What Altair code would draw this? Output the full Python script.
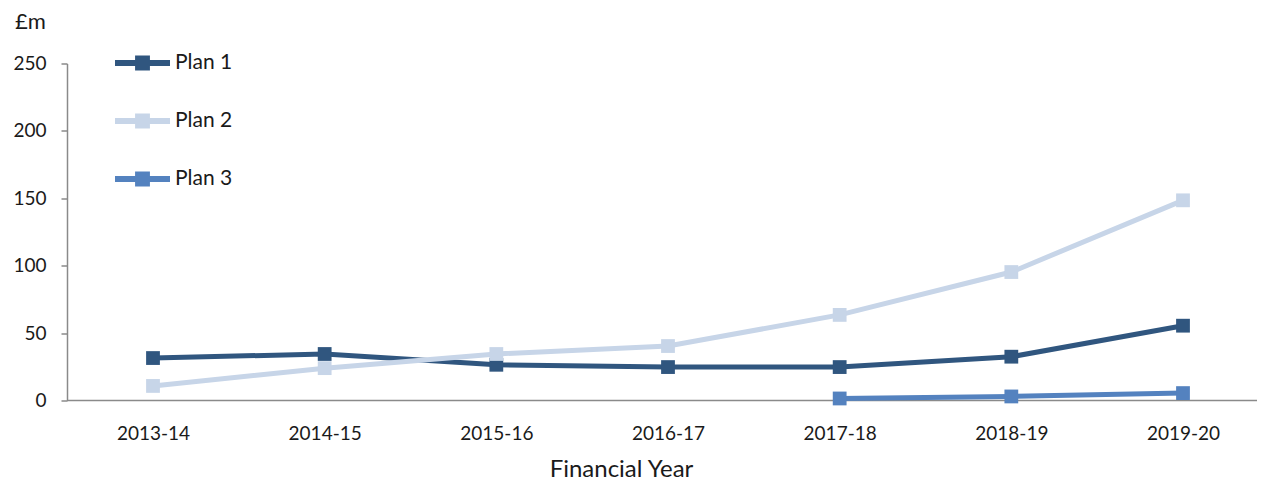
import altair as alt
import pandas as pd

years = ["2013-14", "2014-15", "2015-16", "2016-17", "2017-18", "2018-19", "2019-20"]
series = ["Plan 1", "Plan 2", "Plan 3"]
plan1 = [31.5, 34.5, 26.5, 24.8, 24.8, 32.5, 55.5]
plan2 = [10.8, 24.0, 34.5, 40.4, 63.5, 95.3, 148.5]
plan3 = [None, None, None, None, 1.5, 3.0, 5.5]
colors = ["#30567F", "#C7D5E8", "#5482BF"]
y_ticks = [0, 50, 100, 150, 200, 250]

rows = []
for name, vals in zip(series, [plan1, plan2, plan3]):
    for yr, v in zip(years, vals):
        if v is not None:
            rows.append({"year": yr, "plan": name, "value": v})
df = pd.DataFrame(rows)

W, H = 1190, 337
FONT = "Lato"
TXT = "#1a1a1a"
AX = "#8a8a8a"

LEGEND_PATH = ("M-1,-0.11 L1,-0.11 L1,0.11 L-1,0.11 Z "
               "M-0.27,-0.27 L0.27,-0.27 L0.27,0.27 L-0.27,0.27 Z")

xscale = alt.Scale(type="point", domain=years, range=[86, 1116], padding=0)
yscale = alt.Scale(domain=[0, 250], nice=False, zero=True)
cscale = alt.Scale(domain=series, range=colors)

legend = alt.Legend(orient="none", legendX=48, legendY=-28,
                    title=None, symbolType=LEGEND_PATH,
                    symbolSize=3025, symbolStrokeWidth=0,
                    symbolOpacity=1, labelFont=FONT,
                    labelFontSize=21, labelColor=TXT,
                    labelOffset=5, rowPadding=20, padding=0)

x_enc = alt.X("year:N", scale=xscale, sort=years,
              axis=alt.Axis(domain=False, ticks=False, tickSize=0, grid=False,
                            labelAngle=0, labelFont=FONT, labelFontSize=19,
                            labelColor=TXT, labelBaseline="alphabetic",
                            labelPadding=39,
                            title="Financial Year", titleFont=FONT,
                            titleFontSize=24, titleFontWeight="normal",
                            titleColor=TXT, titleX=554, titleY=76,
                            titleAlign="center", titleBaseline="alphabetic"))
y_enc = alt.Y("value:Q", scale=yscale,
              axis=alt.Axis(values=y_ticks, grid=False, domainColor=AX,
                            domainWidth=1.5, tickColor=AX, tickWidth=1.5,
                            tickSize=6, labelFont=FONT, labelFontSize=19,
                            labelColor=TXT, labelPadding=15,
                            title="£m", titleAngle=0, titleFont=FONT,
                            titleFontSize=22, titleFontWeight="normal",
                            titleColor=TXT, titleX=-37, titleY=-35.5,
                            titleAlign="center", titleBaseline="alphabetic"))

base = alt.Chart(df)

lines = base.mark_line(strokeWidth=5).encode(
    x=x_enc, y=y_enc,
    color=alt.Color("plan:N", scale=cscale, legend=legend),
)

points = base.mark_point(shape="square", filled=True, size=190, opacity=1).encode(
    x=x_enc, y=y_enc,
    color=alt.Color("plan:N", scale=cscale, legend=legend),
)

baseline = alt.Chart(pd.DataFrame({"v": [0]})).mark_rule(
    color=AX, strokeWidth=1.5
).encode(x=alt.value(0), x2=alt.value(W), y=alt.value(H))

chart = alt.layer(baseline, lines, points).properties(
    width=W, height=H,
    autosize=alt.AutoSizeParams(type="none"),
    padding={"left": 59, "top": 55.5, "right": 0, "bottom": 80},
    background="white",
).configure_view(stroke=None)

chart.save("out.html", embed_options={"renderer": "svg", "actions": False})
